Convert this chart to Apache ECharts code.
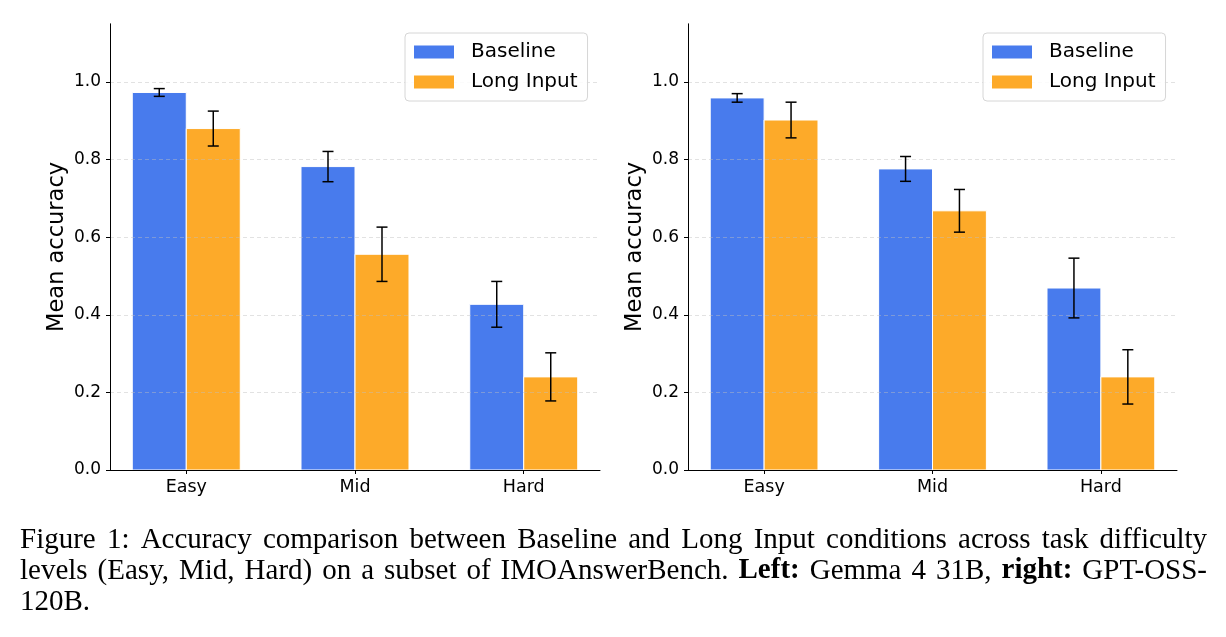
<!DOCTYPE html>
<html>
<head>
<meta charset="utf-8">
<script src="https://cdn.jsdelivr.net/npm/echarts@6/dist/echarts.min.js"></script>
<style>
  html, body { margin: 0; padding: 0; background: #fff; }
  #chart { width: 1226px; height: 637px; }
</style>
</head>
<body>
<div id="chart"></div>
<script>
// ---- data ----
const categories = ['Easy', 'Mid', 'Hard'];
const seriesNames = ['Baseline', 'Long Input'];
const gemmaBaseline    = [0.973, 0.782, 0.427];
const gemmaBaselineErr = [0.010, 0.039, 0.059];
const gemmaLong        = [0.880, 0.556, 0.240];
const gemmaLongErr     = [0.045, 0.070, 0.062];
const gptBaseline      = [0.959, 0.776, 0.469];
const gptBaselineErr   = [0.011, 0.032, 0.077];
const gptLong          = [0.902, 0.668, 0.240];
const gptLongErr       = [0.046, 0.055, 0.070];
const yTicks = [0, 0.2, 0.4, 0.6, 0.8, 1.0];
const yLabelText = ['0.0', '0.2', '0.4', '0.6', '0.8', '1.0'];

// ---- style ----
const COLORS = ['#487bed', '#fdaa29'];
const BAR_W = 0.32;
const FONT = 'DejaVu Sans';
const chart = echarts.init(document.getElementById('chart'));

const panels = [
  { left: 110, width: 490, base: gemmaBaseline, baseErr: gemmaBaselineErr, long: gemmaLong, longErr: gemmaLongErr, legendLeft: 405 },
  { left: 688, width: 489, base: gptBaseline, baseErr: gptBaselineErr, long: gptLong, longErr: gptLongErr, legendLeft: 983 }
];

const grids = [], xAxes = [], yAxes = [], series = [], legends = [];
panels.forEach((p, gi) => {
  grids.push({ left: p.left, width: p.width, top: 470 - 1.15 * 388, height: 1.15 * 388 });
  xAxes.push({
    gridIndex: gi, type: 'value', min: -0.452, max: 2.452, z: 4,
    axisLine: { show: true, onZero: false, lineStyle: { color: '#000', width: 1 } },
    axisTick: { show: true, customValues: [0, 1, 2], length: 4, lineStyle: { color: '#000', width: 1 } },
    axisLabel: { customValues: [0, 1, 2], formatter: v => categories[Math.round(v)], fontFamily: FONT, fontSize: 17.5, color: '#000', margin: 8 },
    splitLine: { show: false }
  });
  yAxes.push({
    gridIndex: gi, type: 'value', min: 0, max: 1.15, interval: 0.2, z: 3,
    name: 'Mean accuracy', nameLocation: 'middle', nameGap: 41, nameRotate: 90,
    nameTextStyle: { fontFamily: FONT, fontSize: 22.5, color: '#000' },
    axisLine: { show: true, onZero: false, lineStyle: { color: '#000', width: 1 } },
    axisTick: { show: true, customValues: yTicks, length: 4, lineStyle: { color: '#000', width: 1 } },
    axisLabel: { customValues: yTicks, formatter: v => yLabelText[Math.round(v * 5)], fontFamily: FONT, fontSize: 17, color: '#000', margin: 9 },
    splitLine: { show: true, lineStyle: { type: [4, 3], color: 'rgba(190,190,190,0.45)', width: 1 } }
  });
  const sets = [[p.base, p.baseErr], [p.long, p.longErr]];
  sets.forEach((s, si) => {
    const offset = (si === 0 ? -1 : 1) * BAR_W / 2;
    const data = categories.map((c, i) => [i, s[0][i], s[1][i]]);
    series.push({
      type: 'custom', name: seriesNames[si], xAxisIndex: gi, yAxisIndex: gi, z: 2,
      itemStyle: { color: COLORS[si] },
      encode: { x: 0, y: 1 },
      data: data,
      renderItem: (params, api) => {
        const x = api.value(0) + offset;
        const p0 = api.coord([x - BAR_W / 2, 0]);
        const p1 = api.coord([x + BAR_W / 2, api.value(1)]);
        return { type: 'rect', shape: { x: p0[0], y: p1[1], width: p1[0] - p0[0], height: p0[1] - p1[1] },
                 style: { fill: COLORS[si], stroke: '#fff', lineWidth: 1 } };
      }
    });
    series.push({
      type: 'custom', name: seriesNames[si] + ' error', xAxisIndex: gi, yAxisIndex: gi, z: 5,
      encode: { x: 0, y: 1 },
      data: data,
      renderItem: (params, api) => {
        const x = api.value(0) + offset;
        const v = api.value(1), e = api.value(2);
        const lo = api.coord([x, v - e]);
        const hi = api.coord([x, v + e]);
        const cap = 5.5;
        const st = { stroke: '#000', lineWidth: 1.5 };
        return { type: 'group', children: [
          { type: 'line', shape: { x1: lo[0], y1: lo[1], x2: hi[0], y2: hi[1] }, style: st },
          { type: 'line', shape: { x1: lo[0] - cap, y1: lo[1], x2: lo[0] + cap, y2: lo[1] }, style: st },
          { type: 'line', shape: { x1: hi[0] - cap, y1: hi[1], x2: hi[0] + cap, y2: hi[1] }, style: st }
        ] };
      }
    });
  });
  legends.push({
    orient: 'vertical', left: p.legendLeft, top: 33, data: seriesNames,
    icon: 'rect', itemWidth: 40, itemHeight: 13, itemGap: 10,
    padding: [9, 10, 9, 9], borderColor: '#d6d6d6', borderWidth: 1, borderRadius: 4,
    backgroundColor: 'rgba(255,255,255,0.85)', selectedMode: false,
    textStyle: { fontFamily: FONT, fontSize: 20, color: '#000', padding: [0, 0, 0, 12] }
  });
});

// ---- caption (justified, serif) ----
const CAP_FONT = 'Liberation Serif';
const CAP_SIZE = 29;
const capLines = [
  { y: 540, justify: true, segs: [['Figure 1: Accuracy comparison between Baseline and Long Input conditions across task difficulty', false]] },
  { y: 571, justify: true, segs: [['levels (Easy, Mid, Hard) on a subset of IMOAnswerBench.', false], ['Left:', true], ['Gemma 4 31B,', false], ['right:', true], ['GPT-OSS-', false]] },
  { y: 602, justify: false, segs: [['120B.', false]] }
];
const measureCtx = document.createElement('canvas').getContext('2d');
const CAP_X0 = 20, CAP_X1 = 1207;
const graphics = [];
capLines.forEach(line => {
  const words = [];
  line.segs.forEach(([txt, bold]) => txt.split(' ').forEach(w => { if (w) words.push({ w, bold }); }));
  words.forEach(o => {
    measureCtx.font = (o.bold ? 'bold ' : '') + CAP_SIZE + 'px "' + CAP_FONT + '"';
    o.width = measureCtx.measureText(o.w).width;
  });
  const total = words.reduce((a, o) => a + o.width, 0);
  measureCtx.font = CAP_SIZE + 'px "' + CAP_FONT + '"';
  const spaceW = measureCtx.measureText(' ').width;
  const gap = line.justify && words.length > 1 ? (CAP_X1 - CAP_X0 - total) / (words.length - 1) : spaceW;
  let x = CAP_X0;
  words.forEach(o => {
    graphics.push({ type: 'text', x: x, y: line.y,
      style: { text: o.w, fill: '#000', font: (o.bold ? 'bold ' : '') + CAP_SIZE + 'px "' + CAP_FONT + '"', textVerticalAlign: 'middle', textAlign: 'left' } });
    x += o.width + gap;
  });
});

chart.setOption({
  animation: false,
  backgroundColor: '#fff',
  grid: grids, xAxis: xAxes, yAxis: yAxes, series: series, legend: legends,
  graphic: graphics
});
</script>
</body>
</html>
